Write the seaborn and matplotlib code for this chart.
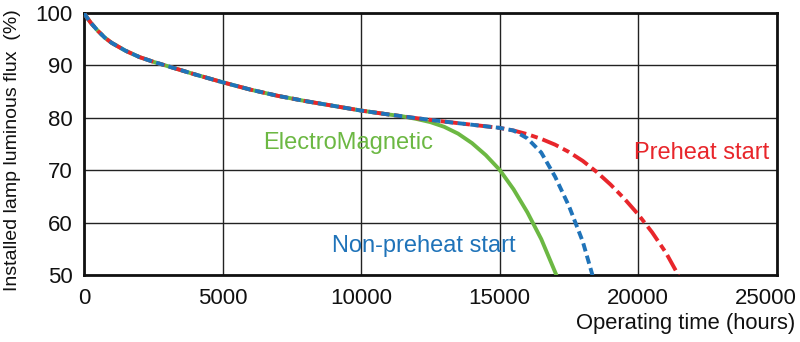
import matplotlib
matplotlib.use("Agg")
import matplotlib.pyplot as plt
import matplotlib.transforms as mtransforms
import seaborn as sns
import pandas as pd

# Shared early-life depreciation curve (operating hours, % of initial flux)
common_hours = [0, 125, 250, 500, 750, 1000, 1500, 2000, 2500, 3000,
                4000, 5000, 6000, 7000, 8000, 9000, 10000, 11000]
common_flux = [100, 99.0, 98.1, 96.6, 95.3, 94.3, 92.8, 91.6, 90.7, 89.9,
               88.3, 86.8, 85.4, 84.2, 83.2, 82.3, 81.4, 80.65]

# End-of-life tails for each ballast type
em_hours = [11500, 12000, 12500, 13000, 13500, 14000, 14500, 15000, 15500, 16000, 16500, 17050]
em_flux = [80.3, 79.8, 79.2, 78.3, 77.0, 75.2, 72.9, 70.1, 66.4, 62.0, 56.9, 50.0]

nph_hours = [11500, 12000, 13000, 14000, 15000, 15500, 16000, 16500, 17000, 17500, 18000, 18350]
nph_flux = [80.3, 79.95, 79.3, 78.7, 78.1, 77.6, 76.1, 73.4, 68.8, 63.2, 56.4, 50.0]

ph_hours = [11500, 12000, 13000, 14000, 15000, 15500, 16000, 16500, 17000, 17500, 18000,
            18500, 19000, 19500, 20000, 20500, 21000, 21450]
ph_flux = [80.3, 79.95, 79.3, 78.7, 78.1, 77.6, 76.9, 76.0, 74.9, 73.5, 71.8,
           69.7, 67.3, 64.6, 61.6, 58.2, 54.3, 50.0]

x_ticks = [0, 5000, 10000, 15000, 20000, 25000]
y_ticks = [50, 60, 70, 80, 90, 100]

GREEN = "#6cb843"
BLUE = "#1f73b9"
RED = "#e8262b"
LW = 2.8

sns.set_theme(style="white")
plt.rcParams["font.family"] = ["Liberation Sans", "DejaVu Sans"]

fig = plt.figure(figsize=(8.0, 3.42), dpi=100)
ax = fig.add_axes([0.105, 0.195, 0.866, 0.767])

def series(hours, flux):
    return pd.DataFrame({"hours": common_hours + hours, "flux": common_flux + flux})

# green solid at the bottom, red dash-dot in the middle, blue dashes on top
sns.lineplot(data=series(em_hours, em_flux), x="hours", y="flux", ax=ax,
             color=GREEN, linewidth=LW, sort=False, zorder=3)
sns.lineplot(data=series(ph_hours, ph_flux), x="hours", y="flux", ax=ax,
             color=RED, linewidth=LW, sort=False, zorder=4)
ax.lines[-1].set_dashes((4.5, 1.3, 1.8, 1.3))
sns.lineplot(data=series(nph_hours, nph_flux), x="hours", y="flux", ax=ax,
             color=BLUE, linewidth=LW, sort=False, zorder=5)
ax.lines[-1].set_dashes((2.15, 1.15))

ax.set_xlim(0, 25000)
ax.set_ylim(50, 100)
ax.set_xticks(x_ticks)
ax.set_yticks(y_ticks)
ax.set_xticklabels([str(v) for v in x_ticks], fontsize=16)
ax.set_yticklabels([str(v) for v in y_ticks], fontsize=16)
ax.tick_params(axis="both", length=0, colors="#111111")
ax.tick_params(axis="x", pad=9)
ax.tick_params(axis="y", pad=8)

# keep the last hour label inside the figure
last = ax.get_xticklabels()[-1]
last.set_transform(last.get_transform() +
                   mtransforms.ScaledTranslation(-0.11, 0, fig.dpi_scale_trans))

ax.grid(True, color="#222222", linewidth=1.0)
ax.set_axisbelow(True)
for side in ax.spines.values():
    side.set_visible(True)
    side.set_color("#111111")
    side.set_linewidth(2.0)

ax.set_xlabel("")
ax.set_ylabel("")
fig.text(0.016, 0.56, "Installed lamp luminous flux  (%)", rotation=90,
         ha="center", va="center", fontsize=14, color="#111111")
fig.text(0.994, 0.055, "Operating time (hours)", ha="right", va="center",
         fontsize=15.8, color="#111111")

ax.text(6450, 75.2, "ElectroMagnetic", color=GREEN, fontsize=17, va="center", ha="left")
ax.text(8950, 55.6, "Non-preheat start", color=BLUE, fontsize=17, va="center", ha="left")
ax.text(19850, 73.3, "Preheat start", color=RED, fontsize=17, va="center", ha="left")

fig.savefig("out.png", dpi=100)
